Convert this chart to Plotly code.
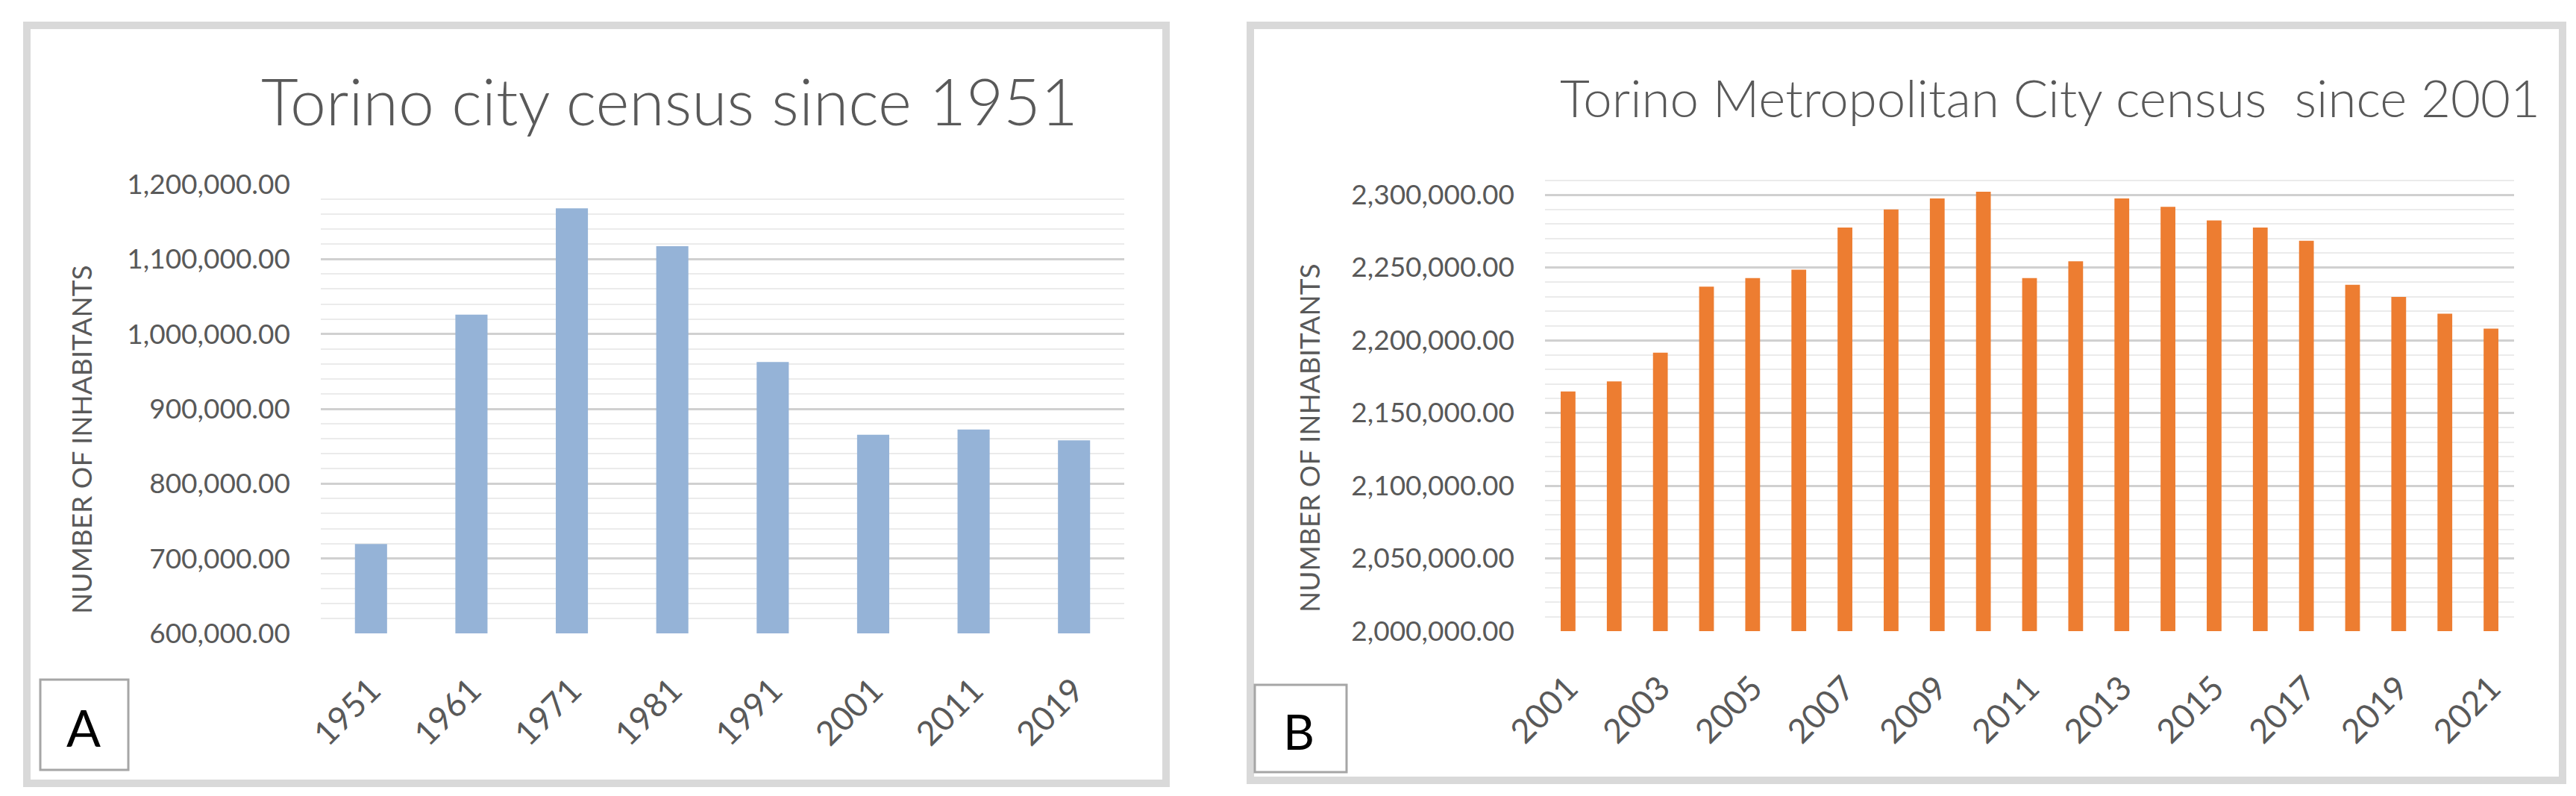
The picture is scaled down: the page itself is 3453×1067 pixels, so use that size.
import plotly.graph_objects as go

W, H = 3453, 1067

# ---- data ----
years_a = ["1951", "1961", "1971", "1981", "1991", "2001", "2011", "2019"]
pop_a = [719300, 1025822, 1167968, 1117154, 962507, 865263, 872367, 857910]

years_b = [str(y) for y in range(2001, 2022)]
pop_b = [2164800, 2171700, 2191400, 2236800, 2242700, 2248400, 2277500, 2289900,
         2297400, 2302000, 2242700, 2254200, 2297400, 2291700, 2282300, 2277500,
         2268300, 2238100, 2229800, 2218200, 2208000]
labels_b = years_b[::2]

title_a = "Torino city census since 1951"
title_b = "Torino Metropolitan City census  since 2001"
axis_title = "NUMBER OF INHABITANTS"

BLUE = "#95B3D7"
ORANGE = "#ED7D31"
TXT = "#595959"
FONT = "Lato"


def px(x):
    return x / W


def py(y):
    return 1 - y / H


fig = go.Figure()
fig.add_trace(go.Bar(x=years_a, y=pop_a, marker=dict(color=BLUE, line=dict(width=0)),
                     xaxis="x", yaxis="y", showlegend=False))
fig.add_trace(go.Bar(x=years_b, y=pop_b, marker=dict(color=ORANGE, line=dict(width=0)),
                     xaxis="x2", yaxis="y2", showlegend=False))

tickfont = dict(family=FONT, size=37, color=TXT)
xtickfont = dict(family=FONT, size=45, color=TXT)
major_col = "#d0d0d0"
minor_col = "#ebebeb"

fig.update_layout(
    template="none",
    width=W, height=H,
    margin=dict(l=0, r=0, t=0, b=0, pad=0, autoexpand=False),
    paper_bgcolor="white", plot_bgcolor="white",
    bargap=0.68,
    xaxis=dict(domain=[px(422), px(1499)], type="category", categoryarray=years_a,
               tickangle=-45, tickfont=xtickfont, showgrid=False, showline=False,
               ticks="", anchor="y", automargin=False, ticklabelstandoff=40,
               zeroline=False),
    yaxis=dict(domain=[py(841), py(239)], range=[600000, 1200000], dtick=100000,
               tick0=0, tickformat=",.2f", tickfont=tickfont, showgrid=True,
               gridcolor=major_col, gridwidth=3, zeroline=False, showline=False,
               ticks="", ticklabelstandoff=40, anchor="x", automargin=False,
               minor=dict(dtick=20000, tick0=0, showgrid=True, gridcolor=minor_col,
                          gridwidth=2)),
    xaxis2=dict(domain=[px(2063), px(3362)], type="category", categoryarray=years_b,
                tickmode="array", tickvals=labels_b, ticktext=labels_b,
                tickangle=-45, tickfont=xtickfont, showgrid=False, showline=False,
                ticks="", anchor="y2", automargin=False, ticklabelstandoff=40,
                zeroline=False),
    yaxis2=dict(domain=[py(838), py(214)], range=[2000000, 2320000], dtick=50000,
                tick0=0, tickformat=",.2f", tickfont=tickfont, showgrid=True,
                gridcolor=major_col, gridwidth=3, zeroline=False, showline=False,
                ticks="", ticklabelstandoff=40, anchor="x2", automargin=False,
                minor=dict(dtick=10000, tick0=0, showgrid=True, gridcolor=minor_col,
                           gridwidth=2)),
)

shapes = []
# outer frames
shapes.append(dict(type="rect", xref="paper", yref="paper",
                   x0=px(28), x1=px(1555), y0=py(1042), y1=py(26),
                   line=dict(color="#d9d9d9", width=10), layer="below"))
shapes.append(dict(type="rect", xref="paper", yref="paper",
                   x0=px(1668), x1=px(3427), y0=py(1038), y1=py(26),
                   line=dict(color="#d9d9d9", width=10), layer="below"))
# label boxes
shapes.append(dict(type="rect", xref="paper", yref="paper",
                   x0=px(46), x1=px(164), y0=py(1024), y1=py(903),
                   line=dict(color="#a6a6a6", width=3)))
shapes.append(dict(type="rect", xref="paper", yref="paper",
                   x0=px(1674), x1=px(1797), y0=py(1027), y1=py(910),
                   line=dict(color="#a6a6a6", width=3)))
fig.update_layout(shapes=shapes)

ann = []
ann.append(dict(text=title_a, x=px(890), y=py(127), xref="paper", yref="paper",
                xanchor="center", yanchor="middle", showarrow=False,
                font=dict(family=FONT, size=86, color=TXT, weight=300)))
ann.append(dict(text=title_b, x=px(2740), y=py(122), xref="paper", yref="paper",
                xanchor="center", yanchor="middle", showarrow=False,
                font=dict(family=FONT, size=69, color=TXT, weight=300)))
ann.append(dict(text=axis_title, x=px(100), y=py(582), xref="paper", yref="paper",
                xanchor="center", yanchor="middle", showarrow=False, textangle=-90,
                font=dict(family=FONT, size=37, color=TXT)))
ann.append(dict(text=axis_title, x=px(1746), y=py(580), xref="paper", yref="paper",
                xanchor="center", yanchor="middle", showarrow=False, textangle=-90,
                font=dict(family=FONT, size=37, color=TXT)))
ann.append(dict(text="A", x=px(104), y=py(966), xref="paper", yref="paper",
                xanchor="center", yanchor="middle", showarrow=False,
                font=dict(family=FONT, size=68, color="black")))
ann.append(dict(text="B", x=px(1733), y=py(972), xref="paper", yref="paper",
                xanchor="center", yanchor="middle", showarrow=False,
                font=dict(family=FONT, size=65, color="black")))
fig.update_layout(annotations=ann)

fig.write_html("out.html", config={"displayModeBar": False})
